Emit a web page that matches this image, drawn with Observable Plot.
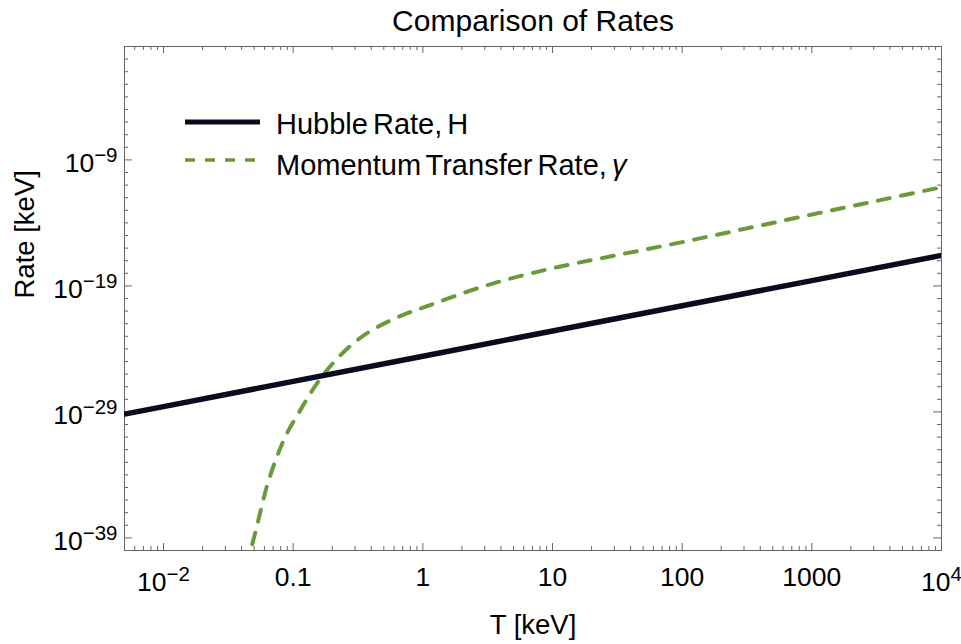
<!DOCTYPE html>
<html><head><meta charset="utf-8">
<script src="https://cdn.jsdelivr.net/npm/d3@7"></script>
<script src="https://cdn.jsdelivr.net/npm/@observablehq/plot@0.6"></script>
<style>
html,body{margin:0;padding:0;background:#fff;}
#chart{width:961px;height:644px;}
</style></head><body><div id="chart"></div>
<script>
// Hubble rate H (keV) vs T (keV)
const hubbleT = [0.005, 0.01, 0.1, 1, 10, 100, 1000, 10000];
const hubbleRate = [6.6e-30, 2.63e-29, 2.63e-27, 2.63e-25, 2.63e-23, 2.63e-21, 2.63e-19, 2.63e-17];
// Momentum transfer rate gamma (keV) vs T (keV)
const gammaT = [0.0436, 0.047, 0.0522, 0.0624, 0.0746, 0.0891, 0.113, 0.135, 0.171, 0.223, 0.309, 0.442, 0.668, 1, 3.16, 10, 31.6, 100, 316, 1000, 3162, 10000];
const gammaRate = [5e-42, 1e-40, 6.9e-39, 1.05e-35, 2.5e-33, 1.8e-31, 1.26e-29, 2.7e-28, 9.1e-27, 2.1e-25, 4.6e-24, 5.1e-23, 4.0e-22, 1.86e-21, 1.17e-19, 2.5e-18, 2.8e-17, 3.0e-16, 3.7e-15, 4.6e-14, 5.6e-13, 6.8e-12];
// Axis ticks
const xMajor = [0.01, 0.1, 1, 10, 100, 1000, 10000];
const xMajorLabels = ["10^\u22122", "0.1", "1", "10", "100", "1000", "10^4"];
const yMajor = [1e-39, 1e-29, 1e-19, 1e-9];
const yMajorLabels = ["10^\u221239", "10^\u221229", "10^\u221219", "10^\u22129"];
const seriesNames = ["Hubble Rate, H", "Momentum Transfer Rate, "];
const titleText = "Comparison of Rates";
const xLabel = "T [keV]";
const yLabel = "Rate [keV]";

const xMinor = [];
for (let k = -3; k <= 3; k++) for (let m = 2; m <= 9; m++) { const v = m * Math.pow(10, k); if (v >= 0.005 && v <= 10000) xMinor.push(v); }
const yMinor = [];
for (let k = -40; k <= 0; k++) { if (!yMajor.some(v => Math.abs(Math.log10(v) - k) < 1e-6)) yMinor.push(Math.pow(10, k)); }

const W = 961, H = 644, mL = 124, mR = 20, mT = 46, mB = 94;
const fw = W - mL - mR, fh = H - mT - mB;
const axisColor = "#666";
const font = "'Liberation Sans', Arial, Helvetica, sans-serif";
const hub = hubbleT.map((t, i) => ({T: t, rate: hubbleRate[i]}));
const gam = gammaT.map((t, i) => ({T: t, rate: gammaRate[i]}));
const idx = xMajorLabels.map((l, i) => i);
const xPlain = idx.filter(i => !xMajorLabels[i].includes("^"));
const xExp = idx.filter(i => xMajorLabels[i].includes("^"));
const tickFont = 26.5, labelFont = 27.5, titleFont = 30, legendFont = 29;

const chart = Plot.plot({
  width: W, height: H, marginLeft: mL, marginRight: mR, marginTop: mT, marginBottom: mB,
  style: {fontFamily: font, background: "#fff", color: "#000", overflow: "visible"},
  x: {type: "log", domain: [0.005, 10000], axis: null},
  y: {type: "log", domain: [1e-40, 1], axis: null},
  marks: [
    Plot.tickX(xMajor, {x: d => d, stroke: axisColor, insetTop: fh - 7}),
    Plot.tickX(xMajor, {x: d => d, stroke: axisColor, insetBottom: fh - 7}),
    Plot.tickX(xMinor, {x: d => d, stroke: axisColor, insetTop: fh - 4}),
    Plot.tickX(xMinor, {x: d => d, stroke: axisColor, insetBottom: fh - 4}),
    Plot.tickY(yMajor, {y: d => d, stroke: axisColor, insetRight: fw - 8}),
    Plot.tickY(yMajor, {y: d => d, stroke: axisColor, insetLeft: fw - 8}),
    Plot.tickY(yMinor, {y: d => d, stroke: axisColor, insetRight: fw - 4}),
    Plot.tickY(yMinor, {y: d => d, stroke: axisColor, insetLeft: fw - 4}),
    Plot.frame({stroke: axisColor}),
    Plot.line(gam, {x: "T", y: "rate", stroke: "#6b9a3b", strokeWidth: 4, strokeDasharray: "12,11.5", curve: "catmull-rom", clip: true}),
    Plot.line(hub, {x: "T", y: "rate", stroke: "#0b0b20", strokeWidth: 5.5, clip: true}),
    Plot.text(yMajor, {y: d => d, text: (d, i) => yMajorLabels[i], frameAnchor: "left", textAnchor: "end", lineAnchor: "bottom", dx: -7, dy: 12.4, fontSize: tickFont, fill: "#000"}),
    Plot.text(xPlain, {x: i => xMajor[i], text: i => xMajorLabels[i], frameAnchor: "bottom", lineAnchor: "bottom", dy: 35, fontSize: tickFont, fill: "#000"}),
    Plot.text(xExp, {x: i => xMajor[i], text: i => xMajorLabels[i], frameAnchor: "bottom", lineAnchor: "bottom", dy: 40, fontSize: tickFont, fill: "#000"}),
    Plot.text([titleText], {frameAnchor: "top", lineAnchor: "bottom", dy: -16, fontSize: titleFont, fill: "#000"}),
    Plot.text([xLabel], {frameAnchor: "bottom", lineAnchor: "bottom", dy: 83, fontSize: labelFont, fill: "#000"}),
    Plot.text([yLabel], {frameAnchor: "left", lineAnchor: "bottom", rotate: -90, dx: -90.7, fontSize: labelFont, fill: "#000"})
  ]
});

const svg = d3.select(chart);
// superscripts
svg.selectAll("text").each(function() {
  const t = this.textContent;
  if (t.includes("^")) {
    const [b, e] = t.split("^");
    const s = d3.select(this);
    s.text(null);
    s.append("tspan").text(b);
    s.append("tspan").attr("dy", -10).attr("font-size", 20.5).text(e);
  }
});
// legend
const lg = svg.append("g").attr("font-family", font).attr("font-size", legendFont).attr("fill", "#000").attr("text-anchor", "start");
lg.append("line").attr("x1", 185).attr("x2", 260).attr("y1", 122).attr("y2", 122).attr("stroke", "#0b0b20").attr("stroke-width", 5);
lg.append("text").attr("x", 276).attr("y", 133.5).attr("text-anchor", "start").attr("word-spacing", -3).text(seriesNames[0]);
lg.append("line").attr("x1", 185).attr("x2", 258).attr("y1", 160).attr("y2", 160).attr("stroke", "#6b9a3b").attr("stroke-width", 3.5).attr("stroke-dasharray", "10,10");
const t2 = lg.append("text").attr("x", 276).attr("y", 174.5).attr("text-anchor", "start").attr("word-spacing", -3);
t2.append("tspan").text(seriesNames[1]);
t2.append("tspan").attr("font-style", "italic").text("\u03b3");

document.getElementById("chart").appendChild(chart);
</script></body></html>
